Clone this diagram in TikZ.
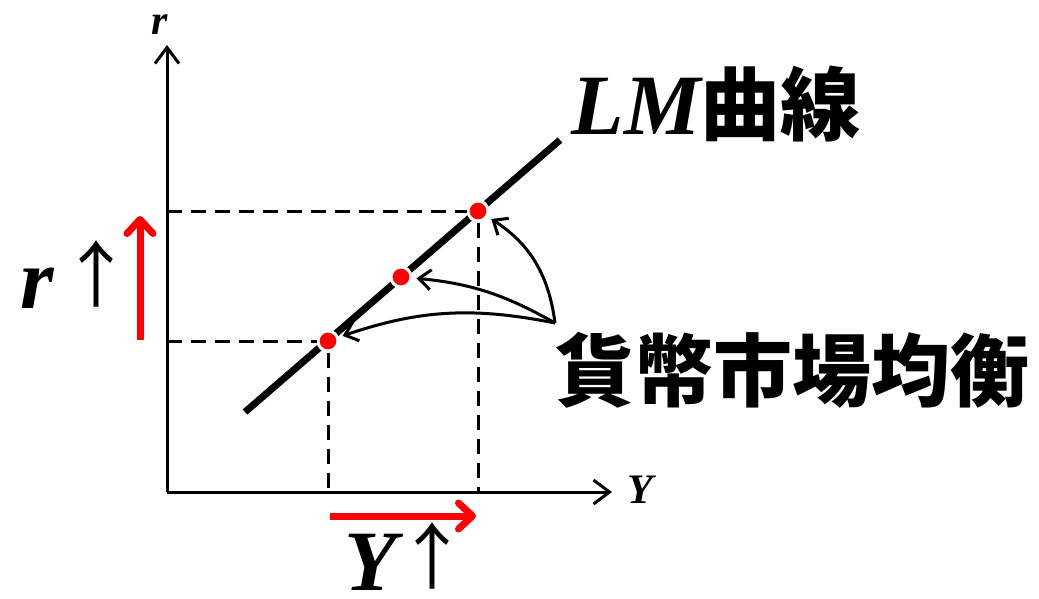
\documentclass[tikz,border=0pt]{standalone}
\usepackage{fontspec}
\setmainfont{Liberation Serif}
\newfontfamily\cjk{Noto Sans CJK JP}
\usetikzlibrary{arrows.meta}
\newcommand{\flechita}{\raisebox{7pt}{\cjk\mdseries\upshape\fontsize{72}{72}\selectfont ↑}}
\tikzset{
  eje/.style={line width=3pt,-{Straight Barb[length=16pt,width=24pt]}},
  guia/.style={line width=3pt,dash pattern=on 15pt off 9pt},
  punto/.style={circle,fill=red,draw=white,line width=3pt,minimum size=20pt,inner sep=0pt},
  subida/.style={line width=7pt,red,-{Straight Barb[round,length=14pt,width=26pt]}},
  curva/.style={line width=3pt,-{Straight Barb[length=12pt,width=20pt]},shorten >=4pt},
  grande/.style={font=\fontsize{86}{90}\selectfont\bfseries\itshape,inner sep=0pt},
  chico/.style={font=\fontsize{42}{44}\selectfont\bfseries\itshape},
  kanji/.style={font=\fontsize{79}{84}\selectfont\cjk\bfseries},
}
\begin{document}
\begin{tikzpicture}[x=1pt,y=-1pt]
\useasboundingbox (0,0) rectangle (1039,598);
% ejes
\coordinate (O) at (167,492);
\coordinate (rtop) at (167,45);
\coordinate (Yend) at (612,492);
\draw[eje] (O)--(rtop);
\draw[eje] (O)--(Yend);
\node[chico] (rlab) at (160,25) {r};
\node[chico] (Ylab) at (640,490) {Y};
% curva LM
\draw[line width=7pt] (245,412)--(560,140);
\node[punto] (A) at (328,341) {};
\node[punto] (B) at (401,277) {};
\node[punto] (C) at (478,211) {};
\coordinate (rA) at (167,341);
\coordinate (rC) at (167,211);
\coordinate (YA) at (328,492);
\coordinate (YC) at (478,492);
\draw[guia] (rA)--(A);
\draw[guia] (rC)--(C);
\draw[guia] (A)--(YA);
\draw[guia] (C)--(YC);
% flechas rojas
\coordinate (rbot) at (140,340);
\coordinate (rtip) at (140,216);
\coordinate (Ybot) at (330,516);
\coordinate (Ytip) at (476,516);
\draw[subida] (rbot)--(rtip);
\draw[subida] (Ybot)--(Ytip);
\node[grande,anchor=base west] (rup) at (20,308) {r\hspace{7pt}\flechita};
\node[grande,anchor=base west] (Yup) at (344,590) {Y\hspace{0pt}\flechita};
% etiquetas
\node[grande,anchor=base] (LM) at (716,134) {LM{\cjk\upshape\fontsize{80}{84}\selectfont 曲線}};
\node[kanji] (eq) at (792,370) {貨幣市場均衡};
\coordinate (S) at (555,323);
\draw[curva] (S) to[bend right=25] (C);
\draw[curva] (S) to[bend right=12] (B);
\draw[curva] (S) to[bend right=15] (A);
\end{tikzpicture}
\end{document}
